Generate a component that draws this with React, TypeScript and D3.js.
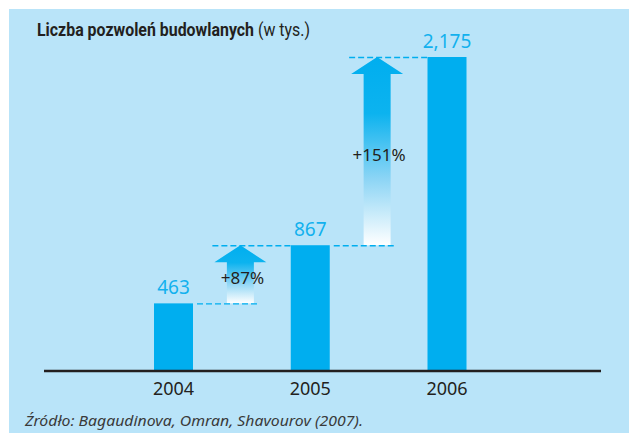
import React, { useEffect, useRef } from 'react';
import * as d3 from 'd3';

// data
const years = ['2004', '2005', '2006'];
const permits = [463, 867, 2175];

const titleBold = 'Liczba pozwoleń budowlanych';
const titleUnit = '(w tys.)';
const sourceText = 'Źródło: Bagaudinova, Omran, Shavourov (2007).';

const W = 629;
const H = 433;
const cyan = '#00aeef';
const dark = '#231f20';

export default function App() {
    const ref = useRef<SVGSVGElement | null>(null);

    useEffect(() => {
        document.body.style.margin = '0';
        const svg = d3.select(ref.current);
        svg.selectAll('*').remove();

        const baseY = 371;
        const x = d3.scalePoint<string>().domain(years).range([173.5, 447]);
        const y = d3.scaleLinear().domain([0, 2175]).range([baseY - 1, 57]);
        const barW = 39;

        // background panel
        svg.append('rect')
            .attr('x', 9).attr('y', 9)
            .attr('width', W - 9).attr('height', H - 9)
            .attr('fill', '#b9e4f9');

        // gradient for arrows
        const defs = svg.append('defs');
        const grad = defs.append('linearGradient')
            .attr('id', 'arrowGrad')
            .attr('x1', 0).attr('y1', 0).attr('x2', 0).attr('y2', 1);
        grad.append('stop').attr('offset', 0).attr('stop-color', cyan);
        grad.append('stop').attr('offset', 0.3).attr('stop-color', '#0cb3ef');
        grad.append('stop').attr('offset', 0.65).attr('stop-color', '#8dd5f5');
        grad.append('stop').attr('offset', 1).attr('stop-color', '#ffffff');

        // title (condensed by a horizontal scale to mimic the narrow face)
        const titleG = svg.append('g');
        const title = titleG.append('text')
            .attr('font-family', '"Roboto", "Liberation Sans", sans-serif')
            .attr('font-size', 18.5)
            .attr('fill', dark);
        title.append('tspan').attr('font-weight', 'bold').text(titleBold);
        title.append('tspan').text(' ' + titleUnit);
        const tw = (title.node() as SVGTextElement).getComputedTextLength();
        const sx = tw > 0 ? 273 / tw : 1;
        titleG.attr('transform', `translate(37,36) scale(${sx},1)`);

        // growth arrows between consecutive bars
        const pct = d3.format('.0f');
        const pairs = d3.pairs(d3.range(permits.length));
        pairs.forEach(([a, b]) => {
            const cx = (x(years[a])! + x(years[b])!) / 2 - 1.5;
            const lo = y(permits[a]);
            const hi = y(permits[b]);
            const headW = 26, shaftW = 13.5, headH = 17;
            const path = d3.path();
            path.moveTo(cx, hi);
            path.lineTo(cx + headW, hi + headH);
            path.lineTo(cx + shaftW, hi + headH);
            path.lineTo(cx + shaftW, lo);
            path.lineTo(cx - shaftW, lo);
            path.lineTo(cx - shaftW, hi + headH);
            path.lineTo(cx - headW, hi + headH);
            path.closePath();
            svg.append('path').attr('d', path.toString()).attr('fill', 'url(#arrowGrad)');

            // dashed guides
            svg.append('line')
                .attr('x1', x(years[a])! + barW / 2 + 4).attr('x2', cx + 18)
                .attr('y1', lo + 0.5).attr('y2', lo + 0.5)
                .attr('stroke', cyan).attr('stroke-width', 1.3)
                .attr('stroke-dasharray', '6,3');
            svg.append('line')
                .attr('x1', cx - headW - 2).attr('x2', x(years[b])! - barW / 2)
                .attr('y1', hi + 0.5).attr('y2', hi + 0.5)
                .attr('stroke', cyan).attr('stroke-width', 1.3)
                .attr('stroke-dasharray', '6,3');

            const growth = (permits[b] / permits[a] - 1) * 100;
            svg.append('text')
                .attr('x', cx + 2).attr('y', (lo + hi) / 2 + 10)
                .attr('text-anchor', 'middle')
                .attr('font-family', '"Noto Sans", sans-serif')
                .attr('font-size', 17)
                .attr('fill', dark)
                .text(`+${pct(growth)}%`);
        });

        // bars
        svg.selectAll('rect.bar')
            .data(permits)
            .enter().append('rect')
            .attr('class', 'bar')
            .attr('x', (d, i) => x(years[i])! - barW / 2)
            .attr('y', d => y(d))
            .attr('width', barW)
            .attr('height', d => baseY - y(d))
            .attr('fill', cyan);

        // value labels
        svg.selectAll('text.val')
            .data(permits)
            .enter().append('text')
            .attr('class', 'val')
            .attr('x', (d, i) => x(years[i])!)
            .attr('y', d => y(d) - 9)
            .attr('text-anchor', 'middle')
            .attr('font-family', '"Noto Sans", sans-serif')
            .attr('font-size', 19)
            .attr('fill', '#12b1ee')
            .text(d => d3.format(',')(d));

        // baseline
        svg.append('line')
            .attr('x1', 44).attr('x2', 601)
            .attr('y1', baseY).attr('y2', baseY)
            .attr('stroke', dark).attr('stroke-width', 2.5);

        // year labels
        svg.selectAll('text.year')
            .data(years)
            .enter().append('text')
            .attr('class', 'year')
            .attr('x', d => x(d)!)
            .attr('y', 395)
            .attr('text-anchor', 'middle')
            .attr('font-family', '"Noto Sans", sans-serif')
            .attr('font-size', 18)
            .attr('fill', dark)
            .text(d => d);

        // source
        svg.append('text')
            .attr('x', 25).attr('y', 426)
            .attr('font-family', '"Noto Sans", sans-serif')
            .attr('font-style', 'italic')
            .attr('font-size', 15)
            .attr('fill', '#3a3a3a')
            .attr('textLength', 338)
            .attr('lengthAdjust', 'spacingAndGlyphs')
            .text(sourceText);
    }, []);

    return <svg ref={ref} width={W} height={H} style={{ display: 'block' }} />;
}
